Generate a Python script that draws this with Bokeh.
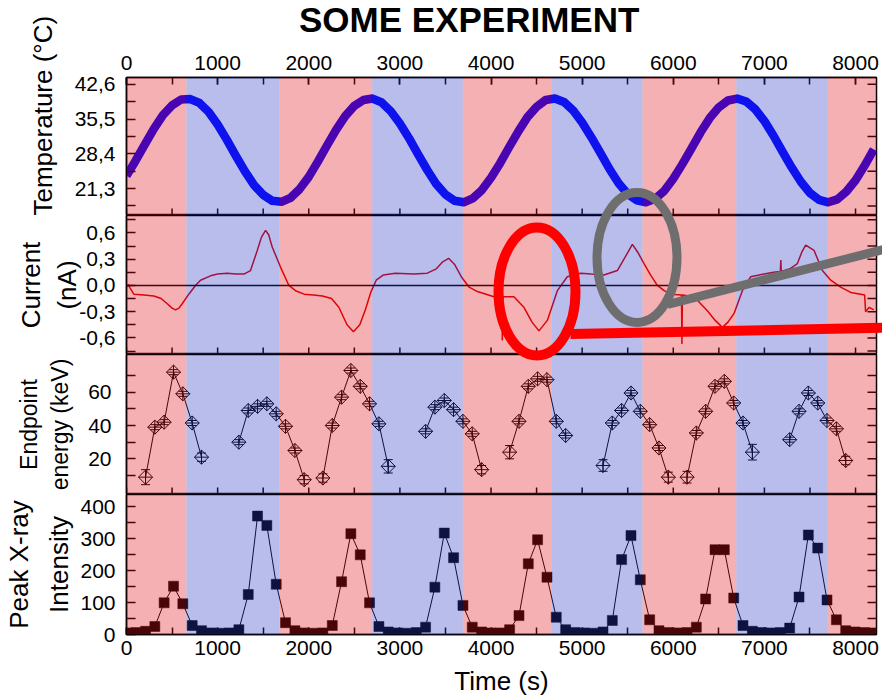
import math
from bokeh.plotting import figure
from bokeh.models import (Range1d, FixedTicker, SingleIntervalTicker, Title, Div,
                          CustomJSTickFormatter, BoxAnnotation, Span, Whisker,
                          ColumnDataSource, TeeHead)
from bokeh.layouts import column
from bokeh.embed import file_html
from bokeh.resources import INLINE

# ---------------- data ----------------
# temperature, sampled every 100 s
temp_t = [0, 100, 200, 300, 400, 500, 600, 700, 800, 900, 1000, 1100, 1200, 1300, 1400, 1500,
          1600, 1700, 1800, 1900, 2000, 2100, 2200, 2300, 2400, 2500, 2600, 2700, 2800, 2900,
          3000, 3100, 3200, 3300, 3400, 3500, 3600, 3700, 3800, 3900, 4000, 4100, 4200, 4300,
          4400, 4500, 4600, 4700, 4800, 4900, 5000, 5100, 5200, 5300, 5400, 5500, 5600, 5700,
          5800, 5900, 6000, 6100, 6200, 6300, 6400, 6500, 6600, 6700, 6800, 6900, 7000, 7100,
          7200, 7300, 7400, 7500, 7600, 7700, 7800, 7900, 8000, 8100, 8200]
temp_c = [23.9, 27.0, 30.3, 33.5, 36.3, 38.3, 39.5, 39.6, 38.8, 37.0, 34.4, 31.3, 28.0, 24.8,
          22.0, 20.0, 18.8, 18.6, 19.4, 21.2, 23.7, 26.8, 30.1, 33.3, 36.1, 38.2, 39.4, 39.7,
          38.9, 37.1, 34.6, 31.6, 28.3, 25.1, 22.2, 20.1, 18.8, 18.5, 19.3, 21.0, 23.5, 26.5,
          29.8, 33.0, 35.9, 38.0, 39.4, 39.7, 39.0, 37.3, 34.8, 31.8, 28.6, 25.3, 22.4, 20.2,
          18.9, 18.5, 19.2, 20.8, 23.3, 26.3, 29.5, 32.8, 35.7, 37.9, 39.3, 39.7, 39.1, 37.5,
          35.1, 32.1, 28.8, 25.6, 22.7, 20.4, 19.0, 18.5, 19.1, 20.7, 23.0, 26.0, 29.3]

# current trace
current_t = [0, 20, 40, 80, 190, 300, 380, 447, 500, 538, 575, 611, 684, 757, 812, 922, 1000,
             1105, 1200, 1288, 1361, 1435, 1480, 1526, 1560, 1599, 1690, 1782, 1855, 1950,
             2050, 2150, 2250, 2330, 2420, 2490, 2560, 2620, 2680, 2740, 2820, 2950, 3150,
             3300, 3400, 3470, 3535, 3600, 3680, 3760, 3850, 3886, 4032, 4120, 4124, 4128,
             4251, 4361, 4450, 4526, 4618, 4728, 4837, 4984, 5100, 5240, 5386, 5470, 5551,
             5610, 5679, 5750, 5825, 5900, 5971, 6090, 6095, 6100, 6105, 6227, 6374, 6460,
             6539, 6600, 6667, 6758, 6850, 6996, 7100, 7175, 7180, 7185, 7280, 7362, 7410,
             7453, 7545, 7636, 7728, 7837, 7947, 8057, 8100, 8110, 8150, 8200]
current_na = [-0.02, 0.01, -0.03, -0.10, -0.11, -0.12, -0.15, -0.21, -0.26, -0.28, -0.26,
              -0.21, -0.10, 0.0, 0.06, 0.11, 0.13, 0.14, 0.13, 0.13, 0.17, 0.40, 0.55, 0.63,
              0.58, 0.44, 0.21, 0.0, -0.06, -0.10, -0.11, -0.12, -0.15, -0.25, -0.45, -0.53,
              -0.45, -0.28, -0.08, 0.06, 0.12, 0.14, 0.13, 0.14, 0.19, 0.27, 0.31, 0.24, 0.09,
              -0.02, -0.07, -0.08, -0.13, -0.13, -0.63, -0.13, -0.13, -0.25, -0.42, -0.52,
              -0.40, -0.06, 0.10, 0.14, 0.13, 0.12, 0.17, 0.32, 0.47, 0.38, 0.25, 0.12, 0.0,
              -0.06, -0.10, -0.11, -0.67, -0.11, -0.11, -0.13, -0.29, -0.40, -0.48, -0.42,
              -0.32, -0.06, 0.10, 0.13, 0.15, 0.16, 0.29, 0.16, 0.19, 0.25, 0.38, 0.46, 0.40,
              0.17, 0.06, -0.02, -0.08, -0.10, -0.11, -0.30, -0.25, -0.28]

# sample times of the X-ray measurements
sample_t = [4, 106, 209, 311, 413, 516, 618, 721, 823, 926, 1028, 1131, 1233, 1336, 1438,
            1540, 1643, 1745, 1848, 1950, 2053, 2155, 2258, 2360, 2462, 2565, 2667, 2770,
            2872, 2975, 3077, 3180, 3282, 3384, 3487, 3589, 3692, 3794, 3897, 3999, 4102,
            4204, 4307, 4409, 4511, 4614, 4716, 4819, 4921, 5024, 5126, 5229, 5331, 5433,
            5536, 5638, 5741, 5843, 5946, 6048, 6151, 6253, 6355, 6458, 6560, 6663, 6765,
            6868, 6970, 7072, 7175, 7277, 7380, 7482, 7585, 7687, 7790, 7892, 7995, 8097, 8200]

N = None
endpoint_kev = [N, N, 9, 39, 42, 72, 59, 41.5, 21, N, N, N, 30, 49, 51.5, 53, 47, 39.5, 25,
                7.5, N, 8.5, 40, 57, 73, 63.5, 53, 41, 15.5, N, N, N, 36.5, 51, 55, 49.5, 42.5,
                35, 13.5, N, N, 24, 42.5, 63.5, 68, 67.5, 42.5, 34, N, N, N, 16, 41.5, 49, 59.5,
                48.5, 40.5, 26.5, 9, N, 9, 35.5, 48.5, 63.5, 66.5, 53.5, 41.5, 24, N, N, N,
                31.5, 48.5, 59.5, 53.5, 43, 38, 19, N, N, N]
endpoint_err = [N, N, 4.5, 1.5, 1.5, 1.5, 1.5, 1.5, 2.5, N, N, N, 1.5, 1.5, 1.5, 1.5, 1.5,
                1.5, 1.5, 2.5, N, 2.5, 1.5, 1.5, 1.5, 1.5, 1.5, 1.5, 4, N, N, N, 1.5, 1.5,
                1.5, 1.5, 1.5, 1.5, 2.5, N, N, 4, 1.5, 1.5, 1.5, 1.5, 1.5, 1.5, N, N, N,
                3.5, 1.5, 1.5, 1.5, 1.5, 1.5, 1.5, 3, N, 3.5, 1.5, 1.5, 1.5, 1.5, 1.5, 1.5,
                4.7, N, N, N, 1.5, 1.5, 1.5, 1.5, 1.5, 1.5, 2.5, N, N, N]

peak_intensity = [5, 6, 10, 25, 99, 151, 96, 28, 12, 5, 4, 5, 15, 125, 370, 341, 157, 37, 12,
                  5, 4, 5, 28, 165, 315, 249, 99, 25, 8, 5, 4, 6, 23, 148, 317, 240, 91, 23, 8,
                  5, 5, 15, 59, 221, 296, 179, 54, 15, 6, 5, 4, 8, 44, 234, 309, 171, 46, 12, 6,
                  5, 6, 23, 111, 265, 265, 114, 28, 10, 6, 5, 6, 20, 117, 311, 270, 108, 46, 12,
                  8, 6, 5]

# heating (red) / cooling (blue) phase boundaries
band_edges = [0, 658, 1679, 2696, 3691, 4661, 5663, 6691, 7696, 8230]

time_ticks = [0, 500, 1000, 1500, 2000, 2500, 3000, 3500, 4000, 4500, 5000, 5500, 6000,
              6500, 7000, 7500, 8000]
temp_ticks = [21.3, 28.4, 35.5, 42.6]
temp_minor = [17.75, 24.85, 31.95, 39.05]
cur_ticks = [-0.6, -0.3, 0.0, 0.3, 0.6]
cur_minor = [-0.75, -0.45, -0.15, 0.15, 0.45, 0.75]
en_ticks = [20, 40, 60]
en_minor = [10, 30, 50, 70]
int_ticks = [0, 100, 200, 300, 400]
int_minor = [50, 150, 250, 350]

# ---------------- layout ----------------
FONT = "Liberation Sans"
W = 882
LEFT = 126
FRAME_W = 750
X_END = 8230
TITLE_H = 40
FRAME_TOPS = [77, 215, 354, 494]
FRAME_HS = [138, 139, 140, 140]
BOTTOM4 = 64

RED = (225, 15, 25)
BLUE = (42, 55, 197)
BAND_ALPHA = 0.33

x_range = Range1d(0, X_END)
nan = float("nan")
YR = [Range1d(15.8, 44.0), Range1d(-0.79, 0.80), Range1d(-1.4, 82.6), Range1d(0, 437.5)]


def to_x(px):
    return (px - LEFT) * X_END / FRAME_W


def to_y(i, py):
    yr = YR[i]
    return yr.end - (py - FRAME_TOPS[i]) * (yr.end - yr.start) / FRAME_HS[i]


def style_axis(ax, tick_len):
    ax.major_tick_in = tick_len
    ax.major_tick_out = 0
    ax.minor_tick_in = tick_len
    ax.minor_tick_out = 0
    ax.major_tick_line_width = 1.5
    ax.minor_tick_line_width = 1.5
    ax.major_tick_line_color = "black"
    ax.minor_tick_line_color = "black"
    ax.axis_line_color = "black"
    ax.axis_line_width = 1.5
    ax.major_label_text_font = FONT
    ax.major_label_text_color = "black"
    ax.major_label_text_font_size = "21px"
    ax.axis_label_text_font = FONT
    ax.axis_label_text_font_style = "normal"
    ax.axis_label_text_font_size = "26px"
    ax.axis_label_text_color = "black"


def make_fig(i, top, bottom, xloc, **kw):
    h = top + FRAME_HS[i] + bottom
    p = figure(width=W, height=h, x_range=x_range, y_range=YR[i],
               output_backend="svg", toolbar_location=None, title=None,
               min_border_left=LEFT, min_border_right=W - LEFT - FRAME_W,
               min_border_top=top, min_border_bottom=bottom, x_axis_location=xloc,
               background_fill_color="white", border_fill_color="white",
               outline_line_color="black", outline_line_width=1.5, **kw)
    p.grid.visible = False
    return p


def setup_y(p, ticks, minor, label, lab_standoff, title_standoff, comma, size="26px",
            line_height=1.2):
    ax = p.yaxis[0]
    ax.ticker = FixedTicker(ticks=ticks, minor_ticks=minor)
    style_axis(ax, 9)
    ax.major_label_standoff = lab_standoff
    if label:
        ax.axis_label = label
        ax.axis_label_standoff = title_standoff
        ax.axis_label_text_font_size = size
        ax.axis_label_text_line_height = line_height
    if comma:
        ax.formatter = CustomJSTickFormatter(code="return tick.toFixed(1).replace('.', ',');")
    # inward ticks on the right edge of the panel
    allt = ticks + minor
    p.scatter([X_END] * len(allt), allt, marker="dash", size=18, line_color="black",
              line_width=1.5)


def bottom_ticks(p):
    # inward ticks on the lower edge of an inner panel
    p.scatter(time_ticks, [p.y_range.start] * len(time_ticks), marker="dash", angle=math.pi / 2,
              size=14, line_color="black", line_width=1.5)


def add_bands(p):
    for i in range(len(band_edges) - 1):
        c = RED if i % 2 == 0 else BLUE
        p.add_layout(BoxAnnotation(left=band_edges[i], right=band_edges[i + 1],
                                   fill_color=c, fill_alpha=BAND_ALPHA, line_color=None,
                                   level="annotation"))


# chart title (the first panel is pulled up underneath it, with a transparent border)
title_div = Div(text="SOME EXPERIMENT", width=W, height=TITLE_H, margin=0,
                styles={"font-family": FONT, "font-size": "35px", "font-weight": "bold",
                        "color": "black", "line-height": "40px", "padding-left": "299px",
                        "white-space": "nowrap"})

# panel 1: temperature
p1 = make_fig(0, FRAME_TOPS[0], 0, "above", margin=(-TITLE_H, 0, 0, 0))
p1.border_fill_alpha = 0
topax = p1.xaxis[0]
topax.ticker = SingleIntervalTicker(interval=1000, num_minor_ticks=2)
style_axis(topax, 7)
topax.major_label_standoff = 8
setup_y(p1, temp_ticks, temp_minor, None, 11, 0, True)
p1.add_layout(Title(text="Temperature (\u00b0C)", align="left", offset=0, standoff=28,
                    text_font=FONT, text_font_size="26px", text_font_style="normal",
                    text_color="black"), "left")
bottom_ticks(p1)
p1.line(temp_t, temp_c, line_color=(0, 0, 255), line_width=8.5, line_join="round")
add_bands(p1)

# panel 2: current
p2 = make_fig(1, 0, 0, None)
setup_y(p2, cur_ticks, cur_minor, "Current\n(nA)", 11, -6, True)
bottom_ticks(p2)
p2.add_layout(Span(location=0, dimension="width", line_color="black", line_width=1.5))
p2.line(current_t, current_na, line_color=(220, 0, 0), line_width=1.5)
add_bands(p2)

# panel 3: endpoint energy
p3 = make_fig(2, 0, 0, None)
setup_y(p3, en_ticks, en_minor, "Endpoint\nenergy (keV)", 15, 12, False, size="23px")
bottom_ticks(p3)
ey = [nan if v is None else v for v in endpoint_kev]
p3.line(sample_t, ey, line_color="black", line_width=1)
wsrc = ColumnDataSource(dict(
    x=[t for t, v in zip(sample_t, endpoint_kev) if v is not None],
    lo=[v - e for v, e in zip(endpoint_kev, endpoint_err) if v is not None],
    hi=[v + e for v, e in zip(endpoint_kev, endpoint_err) if v is not None]))
p3.add_layout(Whisker(source=wsrc, base="x", upper="hi", lower="lo", line_color="black",
                      line_width=1,
                      upper_head=TeeHead(size=9, line_color="black", line_width=1),
                      lower_head=TeeHead(size=9, line_color="black", line_width=1)))
p3.scatter(sample_t, ey, marker="square_x", size=10, angle=math.pi / 4, fill_color="white",
           fill_alpha=0, line_color="black", line_width=1)
add_bands(p3)

# panel 4: peak intensity
p4 = make_fig(3, 0, BOTTOM4, "below")
bax4 = p4.xaxis[0]
bax4.ticker = SingleIntervalTicker(interval=1000, num_minor_ticks=2)
style_axis(bax4, 7)
bax4.major_label_standoff = 6
bax4.axis_label = "Time (s)"
bax4.axis_label_standoff = 8
setup_y(p4, int_ticks, int_minor, "Peak X-ray\nIntensity", 11, 3, False, line_height=1.35)
p4.line(sample_t, peak_intensity, line_color="black", line_width=1)
p4.scatter(sample_t, peak_intensity, marker="square", size=10, fill_color="black",
           line_color="black", line_width=0.5)
add_bands(p4)

# ---------------- highlight annotations (page pixel geometry) ----------------
FIGS = [p1, p2, p3, p4]


def ring(i, cx, cy, w, h, color, lw):
    FIGS[i].ellipse(x=[to_x(cx)], y=[to_y(i, cy)], width=[w], height=[h],
                    width_units="screen", height_units="screen", fill_color=None,
                    line_color=color, line_width=lw, level="overlay")


def bar(i, x0, y0, x1, y1, color, lw):
    FIGS[i].segment(x0=[to_x(x0)], y0=[to_y(i, y0)], x1=[to_x(x1)], y1=[to_y(i, y1)],
                    line_color=color, line_width=lw, level="overlay")


GRAY = (110, 110, 110)
for i in (0, 1):
    ring(i, 636.5, 257, 80, 130, GRAY, 9)
for i in (1, 2):
    ring(i, 536.5, 291, 77, 128, (255, 0, 0), 10)
bar(1, 570, 333.5, 895, 327, (255, 0, 0), 10)
bar(1, 667, 304, 895, 246, GRAY, 9)

layout = column(title_div, p1, p2, p3, p4, spacing=0)
open("out.html", "w").write(file_html(layout, INLINE))
